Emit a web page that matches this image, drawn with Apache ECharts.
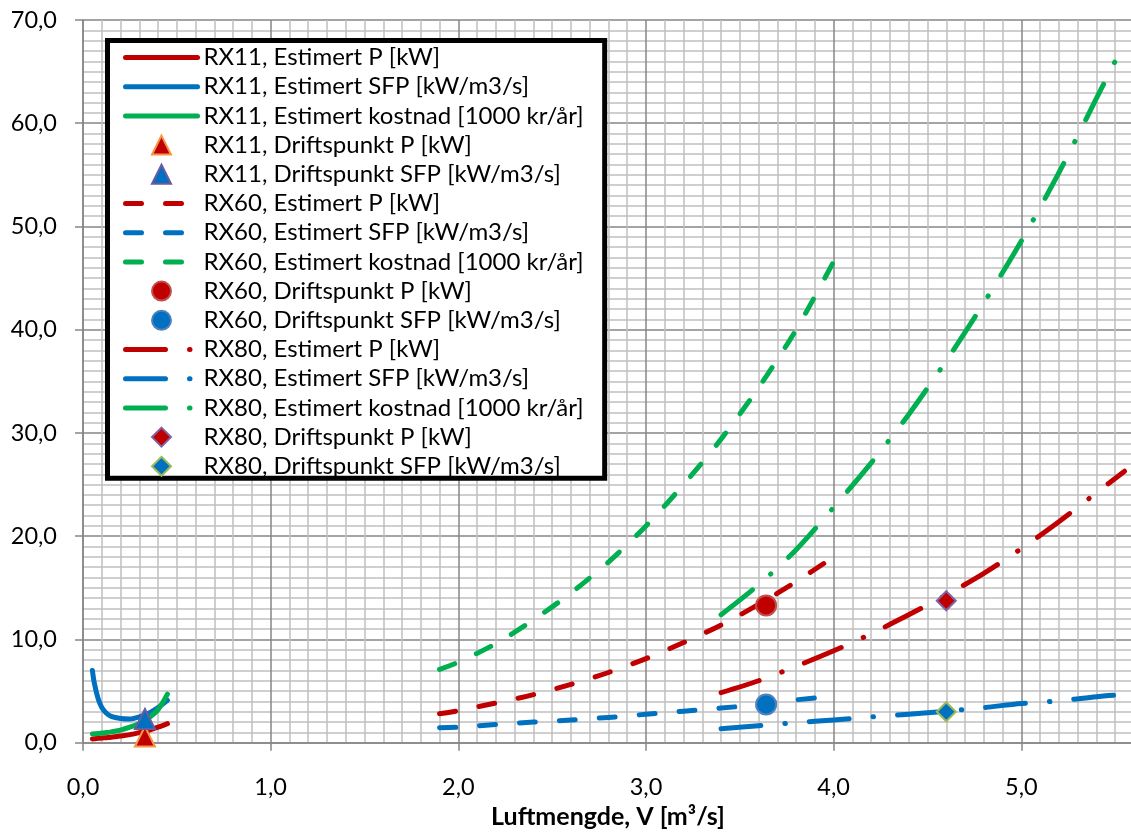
<!DOCTYPE html>
<html>
<head>
<meta charset="utf-8">
<script src="https://cdn.jsdelivr.net/npm/echarts@6/dist/echarts.min.js"></script>
<style>
  html, body { margin: 0; padding: 0; background: #fff; }
  #chart { width: 1131px; height: 832px; }
</style>
</head>
<body>
<div id="chart"></div>
<script>
// Fan curves: estimated power, SFP and yearly cost vs. air flow, plus operating points.
const rx11V      = [0.05, 0.06, 0.08, 0.10, 0.125, 0.15, 0.20, 0.25, 0.30, 0.35, 0.40, 0.45];
const rx11P      = [0.37, 0.38, 0.42, 0.45, 0.49, 0.53, 0.65, 0.78, 0.97, 1.20, 1.50, 1.85];
const rx11SFP    = [7.0, 5.8, 4.3, 3.4, 2.85, 2.55, 2.35, 2.3, 2.5, 2.85, 3.4, 4.1];
const rx11Cost   = [0.85, 0.86, 0.89, 0.93, 0.98, 1.05, 1.22, 1.50, 1.87, 2.40, 3.20, 4.70];

const rx60V      = [1.9, 2.0, 2.2, 2.4, 2.6, 2.8, 3.0, 3.2, 3.4, 3.6, 3.8, 4.0];
const rx60P      = [2.8, 3.1, 3.85, 4.65, 5.65, 6.8, 8.15, 9.7, 11.4, 13.4, 15.6, 18.0];
const rx60SFP    = [1.45, 1.5, 1.77, 2.0, 2.2, 2.45, 2.75, 3.05, 3.35, 3.7, 4.15, 4.5];
const rx60Cost   = [7.1, 7.8, 9.6, 11.9, 14.5, 17.5, 21.0, 25.0, 29.4, 34.4, 40.0, 46.6];

const rx80V      = [3.4, 3.6, 3.8, 4.0, 4.2, 4.4, 4.6, 4.8, 5.0, 5.2, 5.4, 5.55];
const rx80P      = [4.85, 6.0, 7.4, 8.9, 10.55, 12.4, 14.3, 16.4, 18.8, 21.4, 24.2, 26.3];
const rx80SFP    = [1.35, 1.65, 1.95, 2.2, 2.5, 2.75, 3.05, 3.4, 3.8, 4.05, 4.45, 4.7];
const rx80Cost   = [12.4, 15.3, 18.7, 22.8, 27.1, 31.8, 37.0, 42.6, 48.6, 55.2, 62.4, 67.8];

// Operating points [V, value]
const rx11OpP    = [0.33, 0.6];
const rx11OpSFP  = [0.33, 2.3];
const rx60OpP    = [3.64, 13.3];
const rx60OpSFP  = [3.64, 3.7];
const rx80OpP    = [4.60, 13.75];
const rx80OpSFP  = [4.60, 3.0];

const RED = '#C00000', BLUE = '#0070C0', GREEN = '#00B050';
const FONT = 'Lato';
const DASH = [16, 24];
const DASHDOT = [40, 24, 0.5, 24];

// Square-bounded marker outlines so legend icons keep their aspect ratio
const ICON = {
  triangle: 'path://M0,-1L1,1L-1,1Z',
  circle: 'path://M0,-1A1,1,0,1,1,0,1A1,1,0,1,1,0,-1Z',
  diamond: 'path://M0,-1L1,0L0,1L-1,0Z'
};

const zip = (xs, ys) => xs.map((x, i) => [x, ys[i]]);

function curve(name, xs, ys, color, type) {
  return {
    name, type: 'line', data: zip(xs, ys), smooth: 0.3, symbol: 'none',
    lineStyle: { color, width: 5, type, cap: 'round', join: 'round' },
    itemStyle: { color }, z: 2
  };
}
function point(name, pt, symbol, fill, border, size) {
  return {
    name, type: 'scatter', data: [pt], symbol, symbolSize: size,
    itemStyle: { color: fill, borderColor: border, borderWidth: 2, opacity: 1 }, z: 5
  };
}

const series = [
  curve('RX11, Estimert P [kW]', rx11V, rx11P, RED, 'solid'),
  curve('RX11, Estimert SFP [kW/m3/s]', rx11V, rx11SFP, BLUE, 'solid'),
  curve('RX11, Estimert kostnad [1000 kr/år]', rx11V, rx11Cost, GREEN, 'solid'),
  point('RX11, Driftspunkt P [kW]', rx11OpP, 'triangle', RED, '#F79646', 20),
  point('RX11, Driftspunkt SFP [kW/m3/s]', rx11OpSFP, 'triangle', BLUE, '#6A5A9E', 20),
  curve('RX60, Estimert P [kW]', rx60V, rx60P, RED, DASH),
  curve('RX60, Estimert SFP [kW/m3/s]', rx60V, rx60SFP, BLUE, DASH),
  curve('RX60, Estimert kostnad [1000 kr/år]', rx60V, rx60Cost, GREEN, DASH),
  point('RX60, Driftspunkt P [kW]', rx60OpP, 'circle', RED, '#C0504D', 20),
  point('RX60, Driftspunkt SFP [kW/m3/s]', rx60OpSFP, 'circle', BLUE, '#4F81BD', 20),
  curve('RX80, Estimert P [kW]', rx80V, rx80P, RED, DASHDOT),
  curve('RX80, Estimert SFP [kW/m3/s]', rx80V, rx80SFP, BLUE, DASHDOT),
  curve('RX80, Estimert kostnad [1000 kr/år]', rx80V, rx80Cost, GREEN, DASHDOT),
  point('RX80, Driftspunkt P [kW]', rx80OpP, 'diamond', RED, '#8064A2', 19),
  point('RX80, Driftspunkt SFP [kW/m3/s]', rx80OpSFP, 'diamond', BLUE, '#9BBB59', 19)
];

const legendData = series.map(s => s.type === 'line'
  ? { name: s.name, itemStyle: { opacity: 0 }, lineStyle: { width: 5, cap: 'round' } }
  : { name: s.name, icon: ICON[s.symbol] });

const fmt = v => v.toFixed(1).replace('.', ',');
const MAJOR = '#868686', MINOR = '#C0C0C0';

const chart = echarts.init(document.getElementById('chart'), null, { renderer: 'canvas' });
chart.setOption({
  animation: false,
  backgroundColor: '#ffffff',
  textStyle: { fontFamily: FONT },
  grid: { left: 83, top: 20, width: 1126, height: 722.7, containLabel: false, outerBoundsMode: 'none' },
  xAxis: {
    type: 'value', min: 0, max: 6, interval: 1,
    name: 'Luftmengde, V [m³/s]', nameLocation: 'middle', nameGap: 62,
    nameTextStyle: { fontFamily: FONT, fontSize: 25, fontWeight: 'bold', color: '#000', lineHeight: 25, padding: [0, 76, 0, 0] },
    axisLine: { show: true, lineStyle: { color: MAJOR, width: 1.5 } },
    axisTick: { show: true, inside: false, length: 8, lineStyle: { color: MAJOR, width: 1.5 } },
    axisLabel: { fontFamily: FONT, fontSize: 23.5, color: '#000', margin: 33, lineHeight: 23, formatter: fmt },
    splitLine: { show: true, lineStyle: { color: MAJOR, width: 1.5 } },
    minorTick: { show: false, splitNumber: 10 },
    minorSplitLine: { show: true, lineStyle: { color: MINOR, width: 1.5 } }
  },
  yAxis: {
    type: 'value', min: 0, max: 70, interval: 10,
    axisLine: { show: true, lineStyle: { color: MAJOR, width: 1.5 } },
    axisTick: { show: true, inside: false, length: 8, lineStyle: { color: MAJOR, width: 1.5 } },
    axisLabel: { fontFamily: FONT, fontSize: 23.5, color: '#000', margin: 26, lineHeight: 23, formatter: fmt },
    splitLine: { show: true, lineStyle: { color: MAJOR, width: 1.5 } },
    minorTick: { show: false, splitNumber: 10 },
    minorSplitLine: { show: true, lineStyle: { color: MINOR, width: 1.5 } }
  },
  legend: {
    orient: 'vertical', left: 107.5, top: 40.5,
    backgroundColor: '#ffffff', borderColor: '#000000', borderWidth: 5,
    padding: [5, 21, 0, 15.5],
    itemWidth: 72, itemHeight: 19, itemGap: 5.2,
    lineStyle: { width: 5, cap: 'round' },
    textStyle: { fontFamily: FONT, fontSize: 24, color: '#000', lineHeight: 24, padding: [0, 0, 0, 1] },
    data: legendData,
    selectedMode: false
  },
  series
});
</script>
</body>
</html>
